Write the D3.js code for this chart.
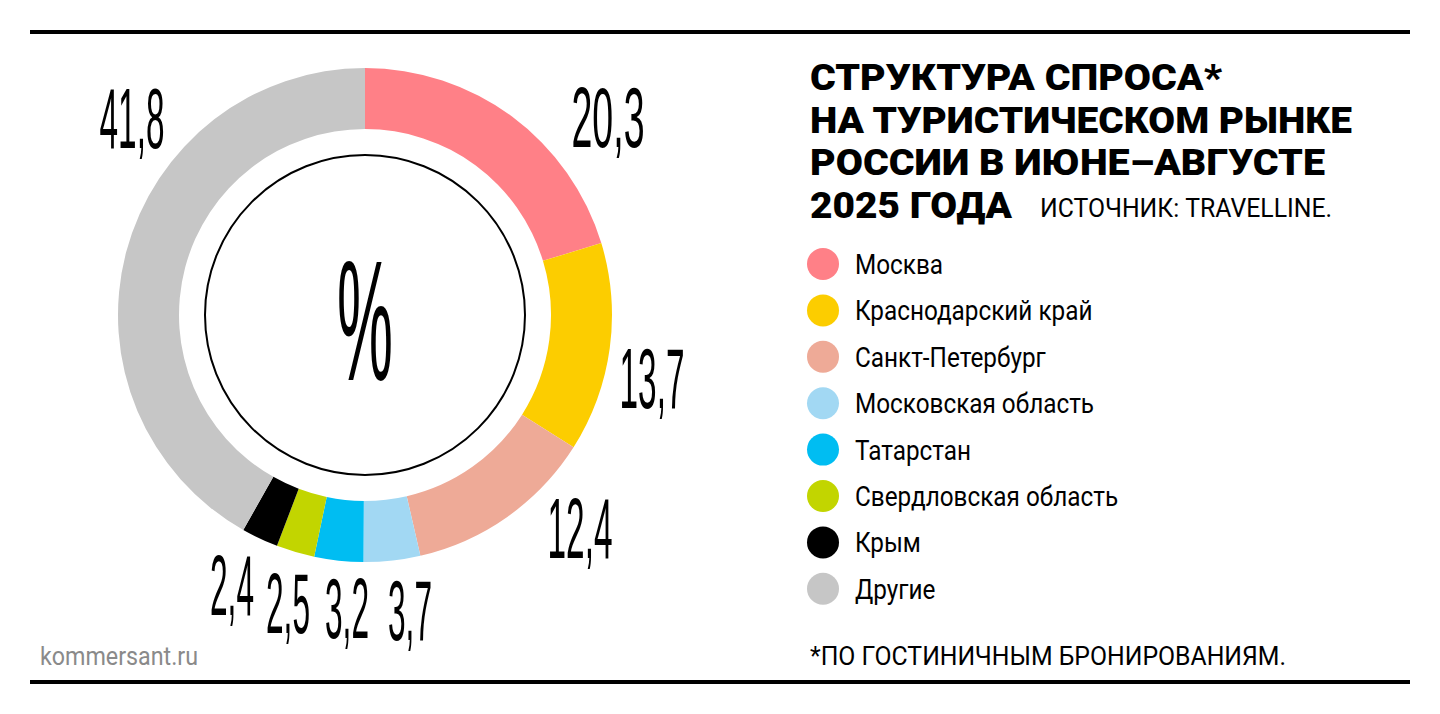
<!DOCTYPE html>
<html><head><meta charset="utf-8">
<script src="https://cdn.jsdelivr.net/npm/d3@7"></script>
<style>body{margin:0;background:#fff}</style>
</head><body>
<svg id="chart" width="1440" height="714"></svg>
<script>
// data
const regions = ["Москва", "Краснодарский край", "Санкт-Петербург", "Московская область", "Татарстан", "Свердловская область", "Крым", "Другие"]
const shares = [20.3, 13.7, 12.4, 3.7, 3.2, 2.5, 2.4, 41.8]
const colors = ["#ff8087", "#fccd00", "#eeaa97", "#a2d8f3", "#00bdf2", "#c2d500", "#000000", "#c6c6c6"]
const titleLines = ["СТРУКТУРА СПРОСА*", "НА ТУРИСТИЧЕСКОМ РЫНКЕ", "РОССИИ В ИЮНЕ–АВГУСТЕ", "2025 ГОДА"]
// label centres, px
const labelPos = [[608, 147], [652, 408], [580, 558], [410, 640], [347, 638], [288, 633], [232, 615], [132, 148]]
const labelW = [73, 65, 65, 44, 44, 44, 44, 65]

const svg = d3.select("#chart")
const cx = 365, cy = 315

svg.append("rect").attr("x", 30).attr("y", 30).attr("width", 1380).attr("height", 4)
svg.append("rect").attr("x", 30).attr("y", 680).attr("width", 1380).attr("height", 4)

const data = regions.map((r, i) => ({region: r, value: shares[i], color: colors[i]}))
const pie = d3.pie().sort(null).value(d => d.value)
const arc = d3.arc().innerRadius(186).outerRadius(247)

const g = svg.append("g").attr("transform", `translate(${cx},${cy})`)
g.selectAll("path").data(pie(data)).enter()
  .append("path")
  .attr("d", arc)
  .attr("fill", d => d.data.color)

g.append("circle").attr("r", 160).attr("fill", "none").attr("stroke", "#000").attr("stroke-width", 2)
g.append("text").text("%")
  .attr("x", -28).attr("y", 65)
  .attr("font-family", "Liberation Sans Narrow, Liberation Sans").attr("font-size", 170)
  .attr("textLength", 56).attr("lengthAdjust", "spacingAndGlyphs")

// value labels, squeezed horizontally with a scale so their boxes stay narrow
svg.append("g").selectAll("text").data(data).enter()
  .append("text")
  .text(d => String(d.value).replace(".", ","))
  .attr("font-family", "Liberation Sans Narrow, Liberation Sans")
  .attr("font-size", 86)
  .attr("text-anchor", "middle")
  .each(function (d, i) {
    const k = labelW[i] / this.getComputedTextLength()
    d3.select(this).attr("transform", `translate(${labelPos[i][0]},${labelPos[i][1]}) scale(${k},1)`)
  })

const title = svg.append("g").attr("font-family", "Roboto").attr("font-weight", 900).attr("font-size", 36)
const titleW = [412, 542, 515, 202]
titleLines.forEach((t, i) => {
  title.append("text").text(t).attr("x", 810).attr("y", 90 + i * 42.5)
    .attr("textLength", titleW[i]).attr("lengthAdjust", "spacingAndGlyphs")
})
svg.append("text").text("ИСТОЧНИК: TRAVELLINE.").attr("x", 1040).attr("y", 217)
  .attr("font-family", "Roboto").attr("font-size", 26)
  .attr("textLength", 292).attr("lengthAdjust", "spacingAndGlyphs")

const leg = svg.append("g").selectAll("g").data(data).enter()
  .append("g").attr("transform", (d, i) => `translate(823,${264 + i * 46.4})`)
leg.append("circle").attr("r", 16).attr("fill", d => d.color)
leg.append("text").text(d => d.region).attr("x", 32).attr("y", 10)
  .attr("font-family", "Roboto").attr("font-size", 27)
  .each(function () { const w = this.getComputedTextLength(); d3.select(this).attr("textLength", w * 0.9).attr("lengthAdjust", "spacingAndGlyphs") })

svg.append("text").text("*ПО ГОСТИНИЧНЫМ БРОНИРОВАНИЯМ.").attr("x", 810).attr("y", 665)
  .attr("font-family", "Roboto").attr("font-size", 26)
  .attr("textLength", 476).attr("lengthAdjust", "spacingAndGlyphs")
svg.append("text").text("kommersant.ru").attr("x", 40).attr("y", 665)
  .attr("font-family", "Roboto").attr("font-size", 25).attr("fill", "#8a8a8a")
  .attr("textLength", 158).attr("lengthAdjust", "spacingAndGlyphs")
</script>
</body></html>
